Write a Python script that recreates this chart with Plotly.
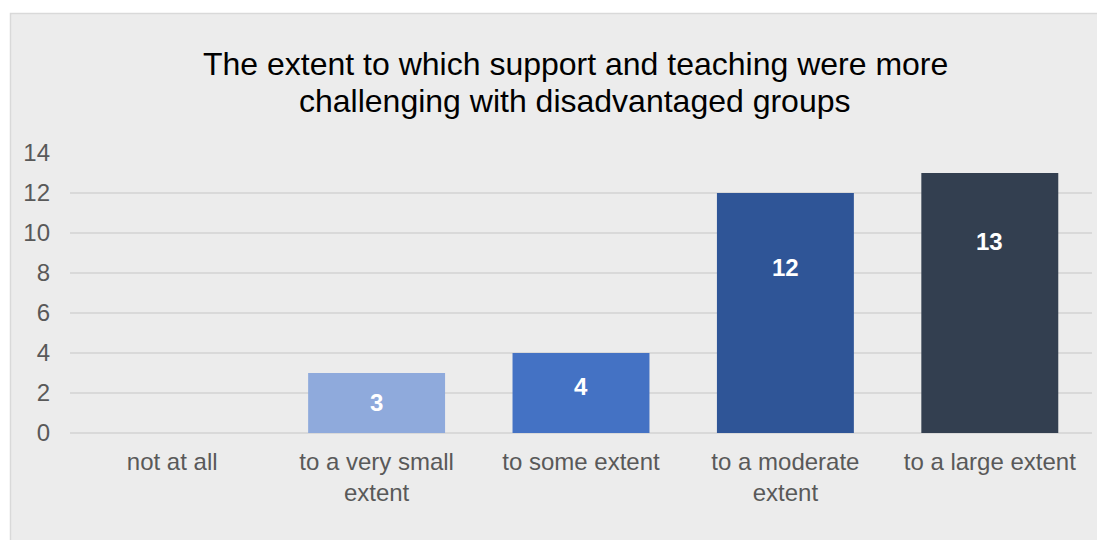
import plotly.graph_objects as go

categories = ["not at all", "to a very small<br>extent", "to some extent", "to a moderate<br>extent", "to a large extent"]
values = [0, 3, 4, 12, 13]
colors = ["#8FAADC", "#8FAADC", "#4472C4", "#2F5597", "#333F50"]
label_y = [None, 1.52, 2.35, 8.3, 9.6]
title_lines = ["The extent to which support and teaching were more",
               "challenging with disadvantaged groups"]

W, H = 1105, 540
OFF = 8  # page body margin offset
ml, mr, mt, mb = 70 - OFF, 13 + OFF, 153 - OFF, 107 + OFF
pw, ph = W - ml - mr, H - mt - mb
FONT = "Liberation Sans, Arial"


def px_x(p):
    return (p - OFF - ml) / pw


def px_y(p):
    return (H - mb - (p - OFF)) / ph


fig = go.Figure()
fig.add_trace(go.Bar(x=categories, y=values, marker=dict(color=colors, line=dict(width=0)),
                     width=0.67, hoverinfo="skip"))

for c, v, ly in zip(categories, values, label_y):
    if ly is None or v == 0:
        continue
    fig.add_annotation(x=c, y=ly, text="<b>%d</b>" % v, showarrow=False,
                       font=dict(family=FONT, size=24, color="white"))

# title (two lines, Excel-like tight spacing)
for line, yc in zip(title_lines, [64, 101]):
    fig.add_annotation(xref="paper", yref="paper", x=px_x(575), y=px_y(yc), xanchor="center",
                       yanchor="middle", text=line, showarrow=False,
                       font=dict(family=FONT, size=32, color="#000000"))

# chart area background box
fig.add_shape(type="rect", xref="paper", yref="paper",
              x0=px_x(10.5), x1=px_x(1120), y0=px_y(560), y1=px_y(13.5),
              fillcolor="#ECECEC", line=dict(color="#D9D9D9", width=1.5), layer="below")

fig.update_layout(
    width=W, height=H,
    margin=dict(l=ml, r=mr, t=mt, b=mb),
    paper_bgcolor="white",
    plot_bgcolor="rgba(0,0,0,0)",
    showlegend=False,
    font=dict(family=FONT, color="#595959"),
)
fig.update_yaxes(range=[0, 14], dtick=2, showgrid=True, gridcolor="#D9D9D9", gridwidth=1.5,
                 zeroline=True, zerolinecolor="#D9D9D9", zerolinewidth=1.5,
                 tickfont=dict(size=24, color="#595959"), ticklabelstandoff=19, showline=False)
fig.update_xaxes(showgrid=False, showline=False, tickfont=dict(size=24, color="#595959"),
                 ticklabelstandoff=12)

fig.write_html("out.html")
